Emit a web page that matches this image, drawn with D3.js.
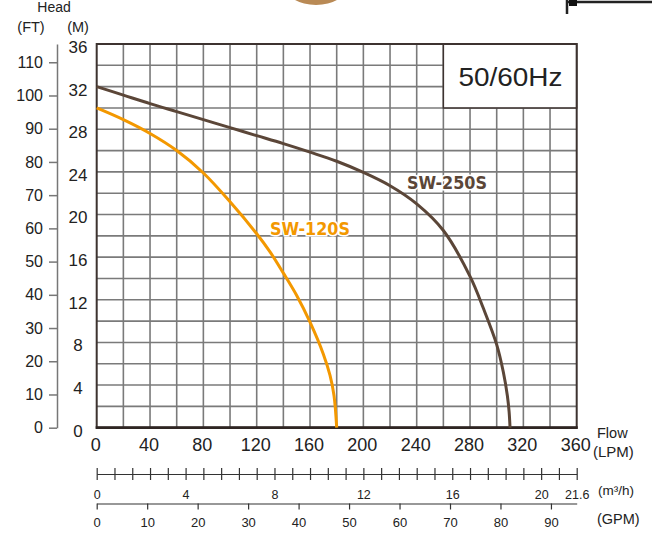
<!DOCTYPE html>
<html><head><meta charset="utf-8">
<script src="https://cdn.jsdelivr.net/npm/d3@7"></script>
<style>body{margin:0;background:#fff}svg{display:block}</style>
</head><body>
<svg id="c" width="652" height="537"></svg>
<script>
// ---- data ----
const flowSW250S = [0, 20, 40, 60, 80, 100, 120, 140, 160, 180, 200, 220, 240, 260, 280, 290, 300, 305, 308, 309.3, 310];
const headSW250S = [32, 31.2, 30.4, 29.65, 28.9, 28.15, 27.4, 26.65, 25.85, 25.0, 23.95, 22.7, 21.0, 18.5, 14.2, 11.2, 7.8, 5.2, 3.0, 1.5, 0];
const flowSW120S = [0, 20, 40, 60, 80, 100, 120, 130, 140, 150, 160, 170, 175, 178, 180];
const headSW120S = [30, 28.9, 27.6, 26.0, 23.9, 21.2, 18.2, 16.5, 14.5, 12.4, 9.9, 6.9, 4.9, 3.0, 0];
const lpmTicks = [0, 40, 80, 120, 160, 200, 240, 280, 320, 360];
const mTicks = [0, 4, 8, 12, 16, 20, 24, 28, 32, 36];
const ftTicks = [0, 10, 20, 30, 40, 50, 60, 70, 80, 90, 100, 110];
const m3hLabels = [0, 4, 8, 12, 16, 20, 21.6];
const gpmTicks = [0, 10, 20, 30, 40, 50, 60, 70, 80, 90];
const seriesNames = ["SW-250S", "SW-120S"];
const freqLabel = "50/60Hz";

const svg = d3.select("#c");
const L = 96.7, R = 576.7, B = 427.7, T = 44;
const x = d3.scaleLinear().domain([0, 360]).range([L, R]);
const y = d3.scaleLinear().domain([0, 36]).range([B, T]);
const yFt = d3.scaleLinear().domain([0, 115.5]).range([B, T]);
const xM3 = d3.scaleLinear().domain([0, 21.6]).range([L, R]);
const xGpm = d3.scaleLinear().domain([0, 360 / 3.78541]).range([L, R]);
const font = "'Liberation Sans', Arial, sans-serif";

// top decorations (crop remnants)
svg.append("ellipse").attr("cx", 316).attr("cy", -14).attr("rx", 31).attr("ry", 19).attr("fill", "#b98a55");
svg.append("path").attr("d", "M567,0 V14 M567,2 H652").attr("stroke", "#222").attr("stroke-width", 2.5).attr("fill", "none");
svg.append("rect").attr("x", 569).attr("y", 0).attr("width", 8).attr("height", 6).attr("fill", "#111");

// grid
const grid = svg.append("g").attr("stroke", "#7a7a7a").attr("stroke-width", 1.6);
grid.selectAll("line.v").data(d3.range(20, 360, 20)).join("line")
  .attr("x1", d => x(d)).attr("x2", d => x(d)).attr("y1", T).attr("y2", B);
grid.selectAll("line.h").data(d3.range(2, 36, 2)).join("line").attr("class", "h")
  .attr("x1", L).attr("x2", R).attr("y1", d => y(d)).attr("y2", d => y(d));

// legend box
svg.append("rect").attr("x", x(260)).attr("y", y(36)).attr("width", x(360) - x(260)).attr("height", y(30) - y(36))
  .attr("fill", "#fff").attr("stroke", "#3d3330").attr("stroke-width", 1.5);
svg.append("text").attr("x", 510.5).attr("y", 86).attr("text-anchor", "middle")
  .attr("font-family", font).attr("font-size", 25).attr("fill", "#222")
  .attr("textLength", 104).attr("lengthAdjust", "spacingAndGlyphs").text(freqLabel);

// frame
svg.append("rect").attr("x", L).attr("y", T).attr("width", R - L).attr("height", B - T)
  .attr("fill", "none").attr("stroke", "#3d3330").attr("stroke-width", 2);
svg.append("line").attr("x1", L - 1).attr("x2", R + 1).attr("y1", B).attr("y2", B).attr("stroke", "#2e2522").attr("stroke-width", 2.8);

// curves
const line = d3.line().x(d => x(d[0])).y(d => y(d[1])).curve(d3.curveCatmullRom.alpha(0.5));
svg.append("path").datum(flowSW250S.map((f, i) => [f, headSW250S[i]]))
  .attr("d", line).attr("fill", "none").attr("stroke", "#5b4638").attr("stroke-width", 3);
svg.append("path").datum(flowSW120S.map((f, i) => [f, headSW120S[i]]))
  .attr("d", line).attr("fill", "none").attr("stroke", "#f39800").attr("stroke-width", 3);

// series labels
const lab = (t, xx, yy, c) => svg.append("text").attr("x", xx).attr("y", yy)
  .attr("font-family", "'DejaVu Sans', sans-serif").attr("font-weight", "bold").attr("font-size", 17.5)
  .attr("fill", c).attr("stroke", "#fff").attr("stroke-width", 3).attr("paint-order", "stroke")
  .attr("textLength", 80).attr("lengthAdjust", "spacingAndGlyphs").text(t);
lab(seriesNames[0], 407, 188.5, "#5b4638");
lab(seriesNames[1], 270, 234.5, "#f39800");

// M axis labels
const mAxis = svg.append("g").attr("transform", `translate(78,3)`)
  .call(d3.axisLeft(y).tickValues(mTicks).tickSize(0).tickPadding(0));
mAxis.select(".domain").remove();
mAxis.selectAll("text").attr("text-anchor", "middle").attr("font-family", font).attr("font-size", 17).attr("fill", "#222");

// FT axis
const ftAxis = svg.append("g").attr("transform", `translate(57,0)`)
  .call(d3.axisLeft(yFt).tickValues(ftTicks).tickSizeInner(8).tickSizeOuter(0).tickPadding(6));
ftAxis.select(".domain").attr("stroke", "#777").attr("stroke-width", 1.5);
ftAxis.selectAll(".tick line").attr("stroke", "#777").attr("stroke-width", 1.5);
ftAxis.selectAll("text").attr("font-family", font).attr("font-size", 16).attr("fill", "#222");

// LPM labels
const lpmAxis = svg.append("g").attr("transform", `translate(-1.5,${B + 11})`)
  .call(d3.axisBottom(x).tickValues(lpmTicks).tickSize(0).tickPadding(0));
lpmAxis.select(".domain").remove();
lpmAxis.selectAll("text").attr("font-family", font).attr("font-size", 18).attr("fill", "#222");

// m3/h axis
const m3Axis = svg.append("g").attr("transform", `translate(0,474)`)
  .call(d3.axisBottom(xM3).tickValues(d3.range(0, 28).map(i => +(i * 0.8).toFixed(1)))
    .tickSizeInner(6).tickSizeOuter(0).tickPadding(10)
    .tickFormat(d => m3hLabels.includes(d) ? d : ""));
m3Axis.select(".domain").attr("stroke", "#333").attr("stroke-width", 1.2);
m3Axis.selectAll(".tick line").attr("y1", -6).attr("y2", 6).attr("stroke", "#333").attr("stroke-width", 1.2);
m3Axis.selectAll("text").attr("font-family", font).attr("font-size", 12.5).attr("fill", "#222");

// GPM axis
const gAxis = svg.append("g").attr("transform", `translate(0,503.5)`)
  .call(d3.axisBottom(xGpm).tickValues(gpmTicks).tickSizeInner(6).tickSizeOuter(0).tickPadding(8));
gAxis.select(".domain").attr("stroke", "#333").attr("stroke-width", 1.2);
gAxis.selectAll(".tick line").attr("stroke", "#333").attr("stroke-width", 1.2);
gAxis.selectAll("text").attr("font-family", font).attr("font-size", 13).attr("fill", "#222");

// unit labels
const t = (s, xx, yy, sz, anchor) => svg.append("text").attr("x", xx).attr("y", yy)
  .attr("text-anchor", anchor || "start").attr("font-family", font).attr("font-size", sz).attr("fill", "#222").text(s);
t("Head", 54, 12, 14, "middle");
t("(FT)", 31, 31.5, 14.5, "middle");
t("(M)", 78, 31.5, 14.5, "middle");
t("Flow", 597, 438, 14.5);
t("(LPM)", 593, 456.5, 15);
t("(m³/h)", 598, 494.5, 13.5);
t("(GPM)", 597, 524, 14.5);
</script>
</body></html>
